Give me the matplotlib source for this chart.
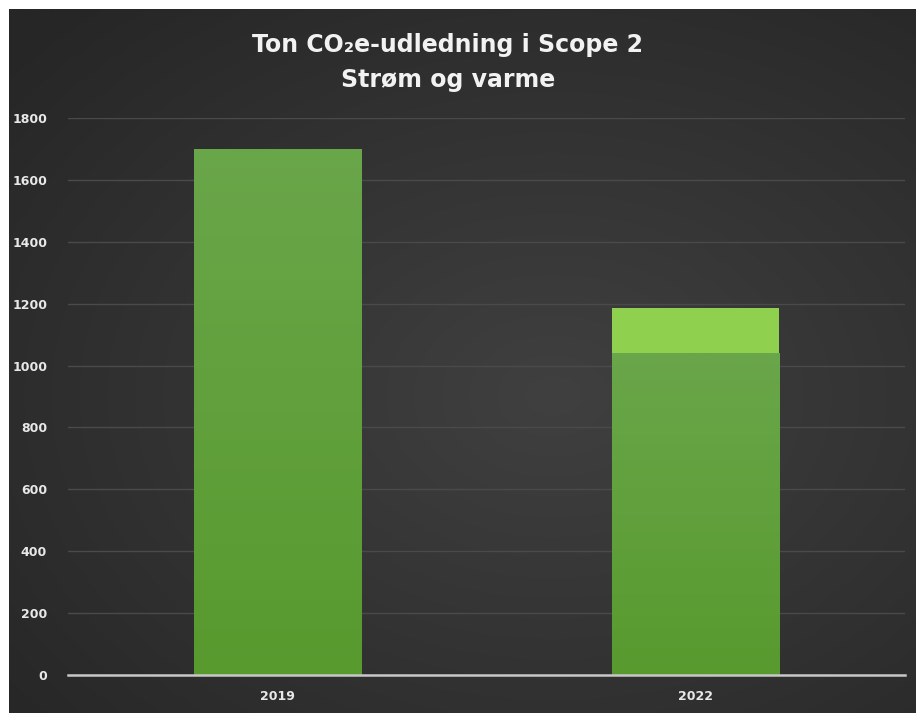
import numpy as np
import matplotlib
matplotlib.use("Agg")
import matplotlib.pyplot as plt
from matplotlib.colors import LinearSegmentedColormap

categories = ["2019", "2022"]
base_values = [1700, 1040]
top_values = [0, 145]
yticks = [0, 200, 400, 600, 800, 1000, 1200, 1400, 1600, 1800]
title_lines = ["Ton CO₂e-udledning i Scope 2", "Strøm og varme"]

fam = ["DejaVu Sans"]

W, H = 916, 713
fig = plt.figure(figsize=(W / 100, H / 100), dpi=100)
fig.patch.set_facecolor("white")

# background panel with radial gradient
bg = fig.add_axes([9 / W, 0, 1 - 9 / W, 1 - 9 / H])
yy, xx = np.mgrid[0:1:300j, 0:1:400j]
r = np.sqrt(((xx - 0.6) / 0.8) ** 2 + ((yy - 0.45) / 0.75) ** 2)
val = np.clip(1 - r, 0, 1)
c0 = np.array([0x26, 0x26, 0x26]) / 255
c1 = np.array([0x40, 0x40, 0x40]) / 255
img = c0[None, None, :] + (c1 - c0)[None, None, :] * val[..., None]
bg.imshow(img, aspect="auto", extent=[0, 1, 0, 1], origin="lower")
bg.axis("off")

ax = fig.add_axes([68 / W, 1 - 675 / H, 837 / W, (675 - 118) / H])
ax.set_facecolor("none")
x = np.arange(len(categories))
bars = ax.bar(x, base_values, width=0.40, color="#5e9e38", zorder=3)
ax.bar(x, top_values, width=0.40, bottom=base_values, color="#8fd14f", zorder=3)

# vertical gradient on base bars
grad_cmap = LinearSegmentedColormap.from_list("g", ["#589a2e", "#6aa64a"])
grad = np.linspace(0, 1, 256).reshape(-1, 1)
for b in bars:
    x0, y0, w, h = b.get_x(), b.get_y(), b.get_width(), b.get_height()
    im = ax.imshow(grad, cmap=grad_cmap, aspect="auto", origin="lower",
                   extent=[x0, x0 + w, y0, y0 + h], zorder=3.5)
    im.set_clip_path(b)
ax.set_xlim(-0.5, 1.5)
ax.set_ylim(0, 1800)

ax.set_yticks(yticks)
ax.set_xticks(x)
ax.set_xticklabels(categories)
for lab in ax.get_xticklabels() + ax.get_yticklabels():
    lab.set_color("#e8e8e8")
    lab.set_fontweight("bold")
    lab.set_fontsize(9)
    lab.set_family(fam)
ax.tick_params(length=0, pad=15)
ax.tick_params(axis="x", pad=11)
ax.grid(axis="y", color="#4a4a4a", linewidth=1.0, zorder=0)
for s in ["top", "right", "left"]:
    ax.spines[s].set_visible(False)
ax.spines["bottom"].set_color("#c8c8c8")
ax.spines["bottom"].set_linewidth(1.8)
ax.spines["bottom"].set_zorder(4)

fig.text(448 / W, 1 - 45 / H, title_lines[0], ha="center", va="center",
         color="#f2f2f2", fontsize=17, fontweight="bold", family=fam)
fig.text(448 / W, 1 - 80 / H, title_lines[1], ha="center", va="center",
         color="#f2f2f2", fontsize=17, fontweight="bold", family=fam)

fig.savefig("out.png", dpi=100, facecolor=fig.get_facecolor())
